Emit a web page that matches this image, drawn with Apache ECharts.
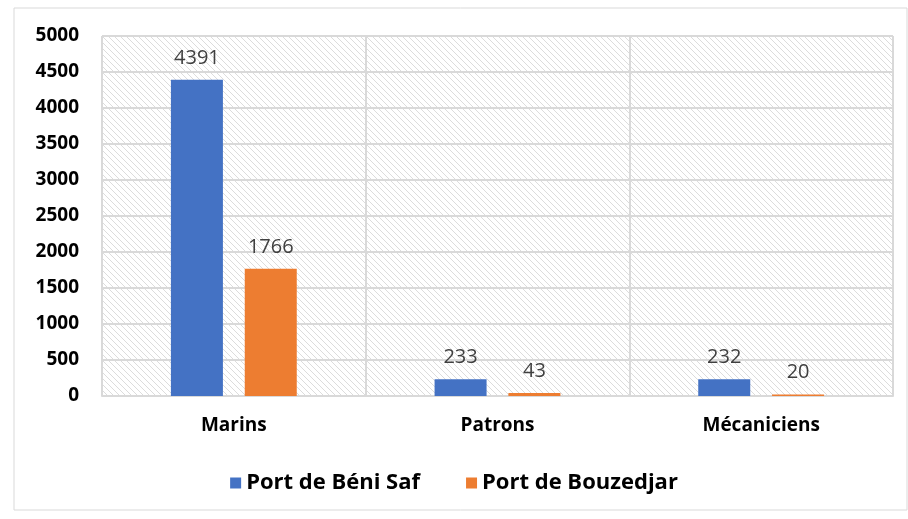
<!DOCTYPE html>
<html>
<head>
<meta charset="utf-8">
<script src="https://cdn.jsdelivr.net/npm/echarts@6/dist/echarts.min.js"></script>
<style>
  html, body { margin: 0; padding: 0; background: #fff; }
  #main { width: 908px; height: 519px; }
</style>
</head>
<body>
<div id="main"></div>
<script>
var categories = ['Marins', 'Patrons', 'Mécaniciens'];
var beniSaf = [4391, 233, 232];
var bouzedjar = [1766, 43, 20];
var seriesNames = ['Port de Béni Saf', 'Port de Bouzedjar'];

// hachures diagonales du fond
function hatchPattern() {
  var c = document.createElement('canvas');
  c.width = 6;
  c.height = 6;
  var ctx = c.getContext('2d');
  ctx.fillStyle = '#ffffff';
  ctx.fillRect(0, 0, 6, 6);
  ctx.strokeStyle = '#dcdcdc';
  ctx.lineWidth = 1;
  ctx.beginPath();
  ctx.moveTo(-1, -1); ctx.lineTo(7, 7);
  ctx.moveTo(-1, 5); ctx.lineTo(1, 7);
  ctx.moveTo(5, -1); ctx.lineTo(7, 1);
  ctx.stroke();
  return c;
}

var chart = echarts.init(document.getElementById('main'));

var labelStyle = {
  show: true,
  position: 'top',
  distance: 12,
  color: '#404040',
  fontSize: 20,
  fontFamily: 'Open Sans'
};

var option = {
  animation: false,
  graphic: [{
    type: 'rect',
    shape: { x: 14, y: 8, width: 893, height: 502 },
    style: { fill: 'none', stroke: '#d9d9d9', lineWidth: 1 },
    silent: true
  }],
  legend: {
    bottom: 20,
    left: 'center',
    itemWidth: 11,
    itemHeight: 11,
    itemGap: 46,
    icon: 'rect',
    textStyle: { fontSize: 22, fontWeight: 'bold', color: '#000', fontFamily: 'Open Sans' },
    data: seriesNames
  },
  grid: {
    left: 102,
    right: 15,
    top: 36,
    bottom: 123,
    show: true,
    borderWidth: 0,
    backgroundColor: { image: hatchPattern(), repeat: 'repeat' }
  },
  xAxis: {
    type: 'category',
    data: categories,
    axisTick: { show: false },
    axisLine: { lineStyle: { color: '#d9d9d9', width: 2 } },
    splitLine: { show: true, lineStyle: { color: '#d9d9d9', width: 2 } },
    axisLabel: { margin: 20, fontSize: 19, fontWeight: 'bold', color: '#000', fontFamily: 'Open Sans' }
  },
  yAxis: {
    type: 'value',
    min: 0,
    max: 5000,
    interval: 500,
    axisLine: { show: false },
    axisTick: { show: false },
    splitLine: { lineStyle: { color: '#d9d9d9', width: 2 } },
    axisLabel: {
      margin: 23,
      fontSize: 19,
      fontWeight: 'bold',
      color: '#000',
      fontFamily: 'Open Sans',
      formatter: function (value) {
        return String(value);
      }
    }
  },
  series: [
    {
      name: seriesNames[0],
      type: 'bar',
      data: beniSaf,
      barWidth: 52,
      barGap: '42%',
      itemStyle: { color: '#4472C4' },
      label: labelStyle
    },
    {
      name: seriesNames[1],
      type: 'bar',
      data: bouzedjar,
      barWidth: 52,
      itemStyle: { color: '#ED7D31' },
      label: labelStyle
    }
  ]
};

chart.setOption(option);
</script>
</body>
</html>
